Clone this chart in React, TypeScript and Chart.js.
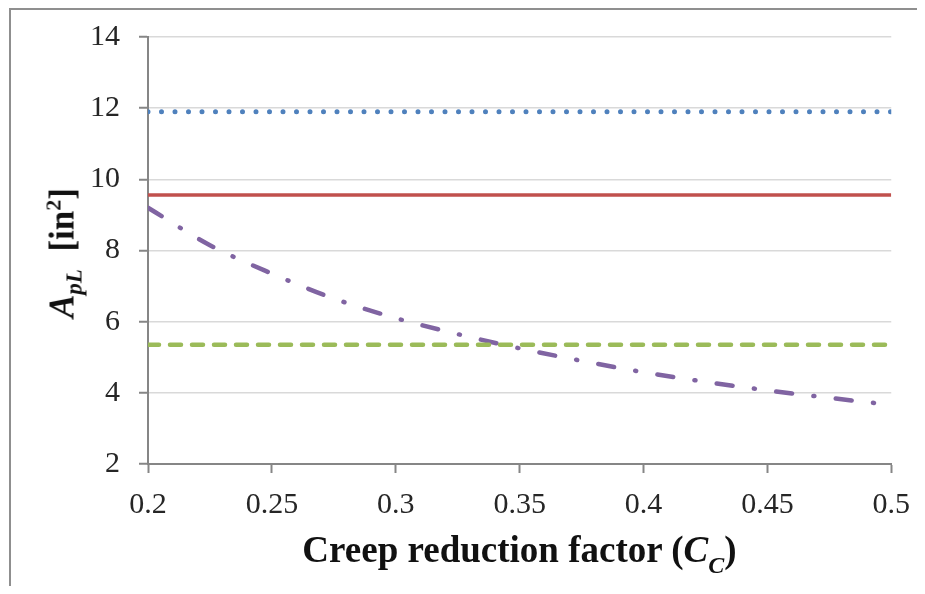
import React, { useEffect, useRef } from "react";
import { Chart, registerables } from "chart.js";

Chart.register(...registerables);

// Creep reduction factor C_C (x)
const ccValues = [0.2, 0.225, 0.25, 0.275, 0.3, 0.325, 0.35, 0.375, 0.4, 0.425, 0.45, 0.475, 0.5];
// Curve (purple dash-dot) A_pL values
const curveValues = [9.2, 8.15, 7.35, 6.65, 6.1, 5.65, 5.25, 4.9, 4.58, 4.31, 4.07, 3.86, 3.66];
// Constant lines, defined at both ends of the x range
const flatX = [0.2, 0.5];
const blueValues = [11.9, 11.9];
const redValues = [9.56, 9.56];
const greenValues = [5.35, 5.35];
// Axis ticks
const xTicks = [0.2, 0.25, 0.3, 0.35, 0.4, 0.45, 0.5];
const yTicks = [2, 4, 6, 8, 10, 12, 14];

const SERIF = "'Liberation Serif', 'Times New Roman', serif";

function pts(xs: number[], ys: number[]) {
  return xs.map((x, i) => ({ x, y: ys[i] }));
}

export default function App() {
  const ref = useRef<HTMLCanvasElement | null>(null);

  useEffect(() => {
    if (!ref.current) return;
    const chart = new Chart(ref.current, {
      type: "line",
      data: {
        datasets: [
          {
            label: "blue",
            data: pts(flatX, blueValues),
            borderColor: "#4F81BD",
            borderWidth: 5,
            borderDash: [0, 13.5],
            borderCapStyle: "round",
            pointRadius: 0,
            fill: false,
          },
          {
            label: "red",
            data: pts(flatX, redValues),
            borderColor: "#C0504D",
            borderWidth: 3.5,
            pointRadius: 0,
            fill: false,
          },
          {
            label: "green",
            data: pts(flatX, greenValues),
            borderColor: "#9BBB59",
            borderWidth: 4.5,
            borderDash: [11, 11],
            borderCapStyle: "round",
            pointRadius: 0,
            fill: false,
          },
          {
            label: "purple",
            data: pts(ccValues, curveValues),
            borderColor: "#8064A2",
            borderWidth: 4.5,
            borderDash: [16, 21.5, 1, 21.5],
            borderCapStyle: "round",
            cubicInterpolationMode: "monotone",
            pointRadius: 0,
            fill: false,
          },
        ],
      },
      options: {
        animation: false,
        responsive: false,
        maintainAspectRatio: false,
        layout: { padding: { top: 20, right: 21, left: 0, bottom: 0 } },
        plugins: { legend: { display: false }, tooltip: { enabled: false } },
        scales: {
          x: {
            type: "linear",
            min: 0.2,
            max: 0.5,
            afterBuildTicks: (s: any) => {
              s.ticks = xTicks.map((v) => ({ value: v }));
            },
            afterFit: (s: any) => {
              s.height = 122;
            },
            ticks: {
              padding: 14,
              color: "#262626",
              font: { family: SERIF, size: 30 },
              callback: (v: any) => String(Math.round(Number(v) * 100) / 100),
              maxRotation: 0,
            },
            grid: {
              drawOnChartArea: false,
              drawTicks: true,
              tickLength: 9,
              tickColor: "#868686",
              tickWidth: 2,
            },
            border: { display: true, color: "#868686", width: 2 },
          },
          y: {
            type: "linear",
            min: 2,
            max: 14,
            afterBuildTicks: (s: any) => {
              s.ticks = yTicks.map((v) => ({ value: v }));
            },
            afterFit: (s: any) => {
              s.width = 140;
            },
            ticks: {
              padding: 19,
              color: "#262626",
              font: { family: SERIF, size: 30 },
            },
            grid: {
              color: "#d9d9d9",
              lineWidth: 1.5,
              drawTicks: true,
              tickLength: 9,
              tickColor: "#868686",
              tickWidth: 2,
            },
            border: { display: true, color: "#868686", width: 2 },
          },
        },
      },
    });
    return () => chart.destroy();
  }, []);

  return (
    <div style={{ position: "relative", width: 909, height: 578, overflow: "hidden", background: "#fff" }}>
      <div
        style={{
          position: "absolute",
          left: 1,
          top: 0,
          width: 1000,
          height: 1000,
          borderLeft: "2px solid #8f8f8f",
          borderTop: "2px solid #8f8f8f",
        }}
      />
      <canvas ref={ref} width={916} height={586} style={{ position: "absolute", left: 0, top: -8 }} />
      <div
        style={{
          position: "absolute",
          left: 140,
          width: 743,
          top: 523,
          textAlign: "center",
          fontFamily: SERIF,
          fontWeight: "bold",
          fontSize: 37,
          lineHeight: "37px",
          color: "#111",
          whiteSpace: "nowrap",
        }}
      >
        Creep reduction factor (<i>C</i>
        <span style={{ fontSize: 24, fontStyle: "italic", position: "relative", top: 11 }}>C</span>)
      </div>
      <div
        style={{
          position: "absolute",
          left: 56,
          top: 245,
          transform: "translate(-50%, -50%) rotate(-90deg)",
          fontFamily: SERIF,
          fontWeight: "bold",
          fontSize: 35,
          lineHeight: "35px",
          color: "#111",
          whiteSpace: "nowrap",
        }}
      >
        <i>A</i>
        <span style={{ fontSize: 23, fontStyle: "italic", position: "relative", top: 8 }}>pL</span>
        {"\u00a0\u00a0"}[in<span style={{ fontSize: 22, position: "relative", top: -13 }}>2</span>]
      </div>
    </div>
  );
}
